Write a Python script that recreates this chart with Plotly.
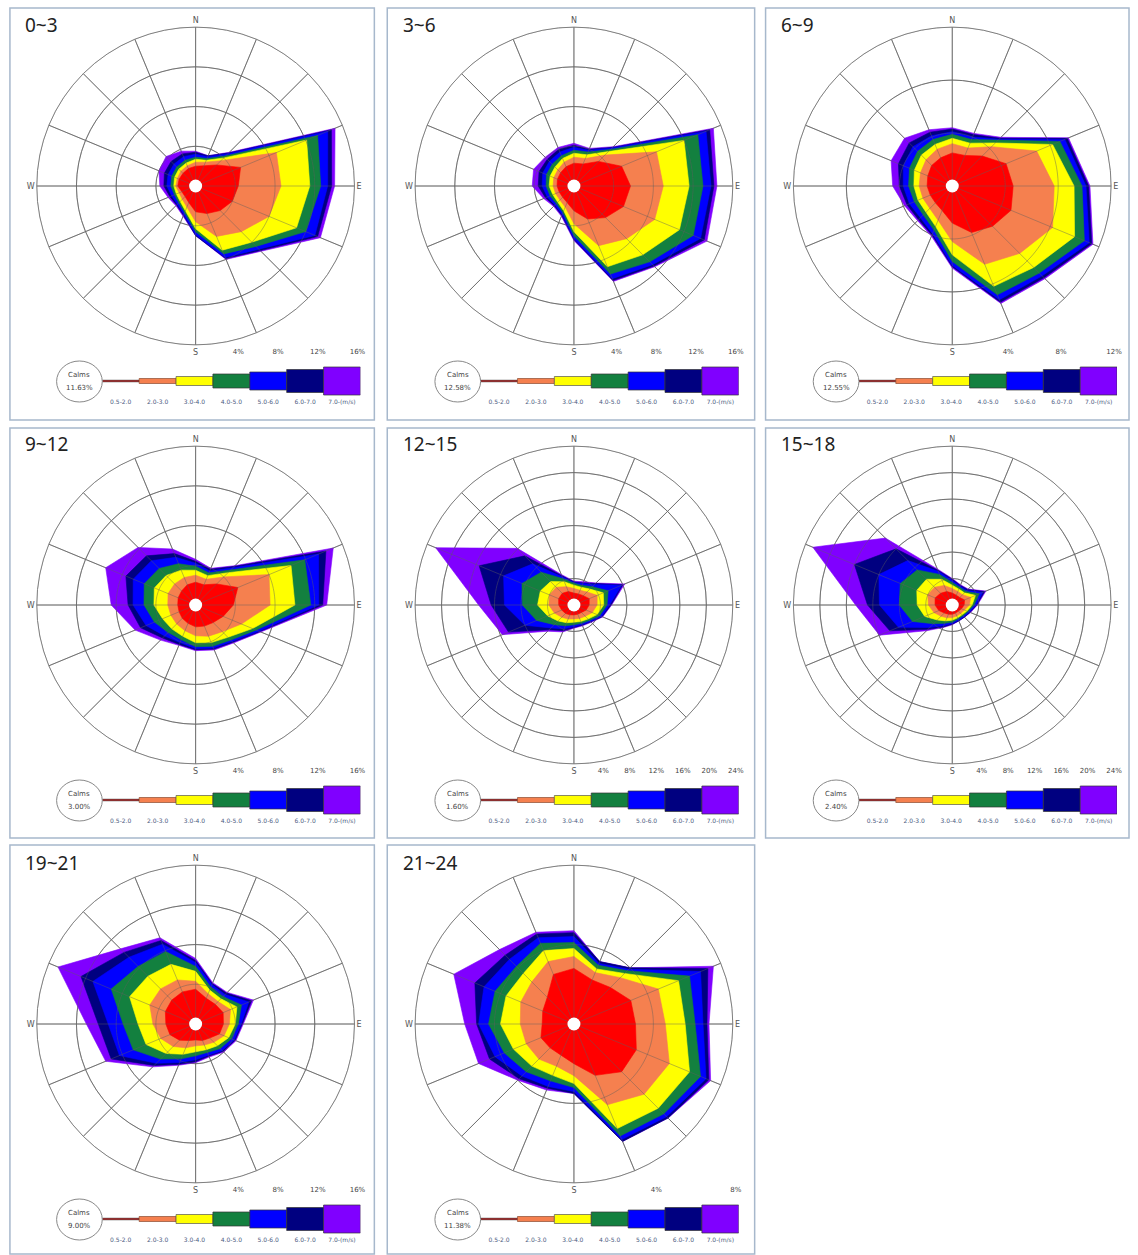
import plotly.graph_objects as go

W, H = 1138, 1255

DIRS = ["N", "NNE", "NE", "ENE", "E", "ESE", "SE", "SSE",
        "S", "SSW", "SW", "WSW", "W", "WNW", "NW", "NNW"]
THETA = [0, 22.5, 45, 67.5, 90, 112.5, 135, 157.5,
         180, 202.5, 225, 247.5, 270, 292.5, 315, 337.5]
CLASSES = ["0.5-2.0", "2.0-3.0", "3.0-4.0", "4.0-5.0", "5.0-6.0", "6.0-7.0", "7.0-(m/s)"]
TITLES = ["0~3", "3~6", "6~9", "9~12", "12~15", "15~18", "19~21", "21~24"]
CALMS = ["11.63%", "12.58%", "12.55%", "3.00%", "1.60%", "2.40%", "9.00%", "11.38%"]
RMAX = [16, 16, 12, 16, 24, 24, 16, 8]
RTICKS = [[4, 8, 12, 16], [4, 8, 12, 16], [4, 8, 12], [4, 8, 12, 16],
          [4, 8, 12, 16, 20, 24], [4, 8, 12, 16, 20, 24], [4, 8, 12, 16], [4, 8]]

# cumulative frequency (%) per direction (N clockwise), one value per speed class
H00_03 = [
    [2.0, 2.4, 2.7, 2.9, 3.2, 3.4, 3.5],
    [2.2, 2.6, 2.8, 3.0, 3.2, 3.3, 3.3],
    [3.0, 3.6, 4.0, 4.3, 4.6, 4.7, 4.8],
    [4.9, 8.8, 12.1, 13.3, 14.4, 14.8, 15.2],
    [4.3, 8.6, 11.5, 12.6, 13.3, 13.7, 14.0],
    [4.0, 8.0, 11.0, 12.0, 13.0, 13.3, 13.6],
    [3.5, 6.5, 8.0, 8.6, 9.0, 9.2, 9.3],
    [3.0, 5.5, 7.0, 7.4, 7.8, 7.9, 8.0],
    [2.6, 3.6, 4.3, 4.6, 4.9, 5.0, 5.0],
    [1.8, 2.3, 2.7, 2.9, 3.1, 3.2, 3.3],
    [1.5, 1.9, 2.2, 2.4, 2.6, 2.7, 2.8],
    [1.5, 1.8, 2.1, 2.3, 2.6, 2.8, 3.0],
    [1.8, 2.0, 2.2, 2.5, 2.9, 3.2, 3.6],
    [1.8, 2.0, 2.3, 2.6, 3.0, 3.4, 4.0],
    [1.8, 2.1, 2.4, 2.7, 3.1, 3.5, 4.2],
    [1.9, 2.2, 2.5, 2.8, 3.2, 3.5, 3.8],
]
H03_06 = [
    [2.3, 2.9, 3.3, 3.6, 3.9, 4.1, 4.3],
    [2.4, 3.0, 3.4, 3.7, 3.9, 4.0, 4.1],
    [3.5, 4.4, 4.9, 5.2, 5.4, 5.5, 5.6],
    [5.2, 9.0, 12.0, 13.5, 14.4, 14.8, 15.2],
    [5.7, 9.0, 11.6, 13.0, 13.8, 14.1, 14.4],
    [5.4, 8.8, 11.5, 13.0, 13.8, 14.2, 14.5],
    [4.5, 7.5, 9.8, 10.8, 11.2, 11.4, 11.5],
    [3.6, 6.5, 8.8, 9.6, 10.1, 10.3, 10.4],
    [2.5, 3.8, 4.6, 5.0, 5.3, 5.4, 5.5],
    [1.8, 2.3, 2.7, 2.9, 3.1, 3.2, 3.3],
    [1.6, 2.0, 2.3, 2.5, 2.7, 2.8, 2.9],
    [1.6, 2.0, 2.3, 2.6, 2.9, 3.1, 3.3],
    [1.7, 2.1, 2.5, 2.8, 3.2, 3.6, 4.2],
    [1.8, 2.2, 2.6, 3.0, 3.4, 3.8, 4.4],
    [1.9, 2.3, 2.7, 3.1, 3.5, 3.8, 4.1],
    [2.1, 2.6, 3.0, 3.3, 3.7, 4.0, 4.2],
]
H06_09 = [
    [2.5, 3.2, 3.6, 3.9, 4.1, 4.3, 4.4],
    [2.5, 3.1, 3.5, 3.8, 4.0, 4.2, 4.3],
    [3.2, 4.2, 4.6, 4.9, 5.0, 5.1, 5.2],
    [4.4, 6.9, 8.2, 8.8, 9.2, 9.4, 9.5],
    [4.6, 7.7, 9.2, 9.8, 10.1, 10.3, 10.4],
    [4.8, 8.2, 10.0, 10.8, 11.2, 11.4, 11.5],
    [4.3, 7.2, 8.7, 9.3, 9.6, 9.8, 9.9],
    [3.8, 6.4, 8.2, 8.9, 9.3, 9.5, 9.6],
    [2.8, 4.2, 5.2, 5.7, 6.0, 6.1, 6.2],
    [2.0, 2.8, 3.3, 3.6, 3.9, 4.0, 4.1],
    [1.8, 2.4, 2.8, 3.1, 3.4, 3.6, 3.7],
    [1.8, 2.4, 2.8, 3.1, 3.5, 3.7, 3.9],
    [1.9, 2.5, 2.9, 3.3, 3.7, 4.0, 4.5],
    [2.0, 2.6, 3.1, 3.5, 4.0, 4.4, 5.0],
    [2.2, 2.8, 3.3, 3.7, 4.2, 4.6, 5.1],
    [2.3, 3.0, 3.4, 3.8, 4.1, 4.4, 4.6],
]
H09_12 = [
    [2.3, 3.0, 3.5, 3.9, 4.2, 4.4, 4.6],
    [2.2, 2.8, 3.2, 3.5, 3.7, 3.9, 4.0],
    [3.0, 4.0, 4.6, 5.0, 5.3, 5.5, 5.6],
    [4.6, 8.0, 10.4, 11.9, 13.4, 14.2, 15.0],
    [3.8, 7.5, 10.0, 11.6, 12.4, 12.8, 13.2],
    [3.0, 5.0, 6.2, 6.6, 6.9, 7.0, 7.1],
    [2.5, 3.8, 4.6, 5.0, 5.2, 5.3, 5.4],
    [2.3, 3.4, 4.1, 4.5, 4.7, 4.8, 4.9],
    [2.2, 3.1, 3.8, 4.2, 4.4, 4.5, 4.6],
    [2.0, 2.8, 3.4, 3.8, 4.1, 4.3, 4.4],
    [1.9, 2.7, 3.4, 3.9, 4.4, 4.7, 5.0],
    [1.8, 2.7, 3.6, 4.5, 5.4, 6.0, 6.6],
    [1.8, 2.8, 4.2, 5.2, 6.3, 6.8, 8.5],
    [1.9, 3.0, 4.5, 5.6, 6.8, 7.6, 9.8],
    [2.0, 3.0, 4.2, 5.2, 6.3, 7.0, 8.2],
    [2.2, 3.0, 3.8, 4.5, 5.2, 5.6, 6.1],
]
H12_15 = [
    [1.8, 2.5, 3.0, 3.3, 3.4, 3.5, 3.6],
    [1.8, 2.4, 2.9, 3.2, 3.5, 3.6, 3.8],
    [2.0, 2.8, 3.4, 3.9, 4.4, 4.6, 4.7],
    [2.5, 3.8, 4.8, 5.6, 7.8, 8.0, 8.3],
    [2.3, 3.5, 4.5, 5.0, 5.4, 5.6, 5.7],
    [2.0, 3.0, 3.8, 4.2, 4.5, 4.6, 4.7],
    [1.6, 2.4, 3.0, 3.3, 3.5, 3.6, 3.7],
    [1.5, 2.2, 2.7, 3.0, 3.2, 3.3, 3.4],
    [1.5, 2.1, 2.6, 3.0, 3.3, 3.4, 3.5],
    [1.6, 2.3, 2.9, 3.4, 3.9, 4.2, 4.4],
    [1.8, 2.6, 3.4, 4.2, 4.9, 5.3, 5.6],
    [2.0, 3.2, 4.3, 6.1, 8.0, 10.7, 11.7],
    [2.3, 3.8, 5.5, 7.8, 10.5, 12.5, 14.4],
    [2.5, 4.0, 5.5, 8.5, 11.5, 15.5, 22.6],
    [2.5, 3.8, 5.0, 7.0, 8.8, 10.5, 12.1],
    [2.2, 3.0, 3.8, 4.3, 4.6, 4.8, 5.0],
]
H15_18 = [
    [1.8, 2.5, 3.0, 3.4, 3.7, 3.9, 4.0],
    [1.6, 2.2, 2.6, 2.9, 3.1, 3.2, 3.3],
    [1.6, 2.2, 2.6, 2.9, 3.1, 3.3, 3.4],
    [2.0, 3.0, 3.8, 4.4, 5.0, 5.3, 5.5],
    [1.8, 2.6, 3.0, 3.3, 3.6, 3.7, 3.8],
    [1.5, 2.0, 2.4, 2.6, 2.8, 2.9, 3.0],
    [1.3, 1.8, 2.1, 2.3, 2.5, 2.6, 2.6],
    [1.3, 1.8, 2.1, 2.3, 2.5, 2.6, 2.6],
    [1.4, 1.9, 2.3, 2.6, 2.8, 2.9, 3.0],
    [1.5, 2.1, 2.6, 3.0, 3.4, 3.6, 3.7],
    [1.7, 2.4, 3.2, 4.0, 4.8, 5.2, 5.5],
    [2.2, 3.0, 4.5, 6.5, 8.8, 10.2, 11.9],
    [2.6, 3.6, 5.3, 8.0, 11.0, 12.8, 14.6],
    [2.8, 4.0, 5.8, 8.5, 12.0, 16.0, 22.8],
    [2.5, 3.8, 5.5, 7.5, 9.5, 12.0, 14.3],
    [2.2, 3.2, 4.2, 5.0, 5.5, 5.7, 5.9],
]
H19_21 = [
    [3.5, 4.3, 5.3, 5.8, 6.2, 6.4, 6.6],
    [2.8, 3.3, 3.7, 4.0, 4.3, 4.4, 4.5],
    [2.8, 3.2, 3.6, 3.9, 4.2, 4.4, 4.5],
    [3.0, 3.8, 4.5, 5.0, 5.8, 6.1, 6.3],
    [2.8, 3.4, 4.0, 4.3, 4.6, 4.7, 4.8],
    [2.6, 3.1, 3.6, 3.9, 4.2, 4.3, 4.4],
    [2.0, 2.6, 3.1, 3.5, 3.8, 3.9, 4.0],
    [1.8, 2.3, 2.8, 3.1, 3.4, 3.5, 3.6],
    [1.6, 2.2, 2.8, 3.2, 3.6, 3.8, 3.9],
    [1.8, 2.6, 3.3, 3.8, 4.2, 4.4, 4.5],
    [2.3, 3.2, 4.2, 5.0, 5.6, 5.9, 6.1],
    [2.8, 3.8, 5.4, 6.8, 8.3, 9.2, 9.8],
    [3.0, 4.3, 5.8, 7.3, 8.8, 9.8, 11.0],
    [3.3, 5.0, 7.2, 9.2, 11.2, 12.5, 15.0],
    [3.4, 5.0, 6.8, 8.2, 9.5, 10.2, 10.7],
    [3.5, 4.8, 6.5, 7.9, 8.7, 9.1, 9.4],
]
H21_24 = [
    [2.8, 3.4, 3.8, 4.1, 4.4, 4.6, 4.7],
    [2.4, 2.8, 3.0, 3.2, 3.3, 3.4, 3.4],
    [2.6, 3.3, 3.6, 3.8, 3.9, 4.0, 4.0],
    [3.1, 4.6, 5.7, 6.3, 6.9, 7.3, 7.6],
    [3.1, 4.6, 5.6, 6.1, 6.5, 6.7, 6.8],
    [3.4, 5.2, 6.3, 6.9, 7.2, 7.35, 7.45],
    [3.4, 5.0, 6.0, 6.4, 6.6, 6.7, 6.7],
    [2.8, 4.4, 5.7, 6.1, 6.3, 6.4, 6.4],
    [2.0, 2.6, 3.0, 3.2, 3.4, 3.5, 3.5],
    [1.7, 2.3, 2.8, 3.1, 3.4, 3.5, 3.6],
    [1.7, 2.5, 3.0, 3.4, 3.7, 3.9, 4.0],
    [1.8, 2.6, 3.3, 3.8, 4.3, 4.6, 5.2],
    [1.6, 2.7, 3.7, 4.3, 4.8, 4.9, 5.5],
    [1.7, 2.9, 3.7, 4.3, 4.9, 5.4, 6.55],
    [1.9, 3.0, 3.6, 4.1, 4.6, 4.9, 5.3],
    [2.7, 3.4, 4.0, 4.4, 4.7, 4.9, 5.0],
]
PANELS = [H00_03, H03_06, H06_09, H09_12, H12_15, H15_18, H19_21, H21_24]

# ---------------- styles / layout ----------------
COLORS = ["#FF0000", "#F5804F", "#FFFF00", "#13803F", "#0000FF", "#000080", "#8000FF"]
LEG_H = [1.5, 5, 9, 14, 18, 23, 28]
LEG_EDGE = ["#222", "#8a4a30", "#555", "#333", "#333", "#333", "#333"]
GRID = "#808080"
GRID_OVER = "rgba(95,95,95,0.55)"
COL_CX = [197, 578, 959]
ROW_CY = [186, 605, 1024]
COL_BOX = [(10, 377), (390, 760), (771, 1137)]
ROW_BOX = [(8, 420), (428, 838), (845, 1254)]
RPX = 160
RING_THETA = [j * 2 for j in range(181)]


def px(x):
    return x / W


def py(y):
    return 1 - y / H


fig = go.Figure()
layout = dict(width=W, height=H, margin=dict(l=0, r=0, t=0, b=0),
              paper_bgcolor="white", plot_bgcolor="rgba(0,0,0,0)",
              showlegend=False, shapes=[], annotations=[])

for i, data in enumerate(PANELS):
    col, row = i % 3, i // 3
    cx, cy = COL_CX[col], ROW_CY[row]
    pid = "polar" if i == 0 else f"polar{i + 1}"

    for k in reversed(range(7)):
        r = [d[k] for d in data] + [data[0][k]]
        fig.add_trace(go.Scatterpolar(
            r=r, theta=THETA + [THETA[0]], mode="lines", fill="toself",
            fillcolor=COLORS[k], line=dict(color=COLORS[k], width=0.6),
            subplot=pid, hoverinfo="skip"))

    # grid drawn again over the filled areas (spokes and rings)
    gr, gt = [], []
    for t in THETA:
        gr += [0, RMAX[i], None]
        gt += [t, t, None]
    for v in RTICKS[i]:
        gr += [v] * len(RING_THETA) + [None]
        gt += RING_THETA + [None]
    fig.add_trace(go.Scatterpolar(r=gr, theta=gt, mode="lines", subplot=pid,
                                  hoverinfo="skip", connectgaps=False,
                                  line=dict(color=GRID_OVER, width=0.8)))

    fig.add_trace(go.Scatterpolar(
        r=[0], theta=[0], mode="markers", subplot=pid, hoverinfo="skip",
        marker=dict(color="white", size=13, line=dict(width=0))))

    layout[pid] = dict(
        domain=dict(x=[px(cx - RPX), px(cx + RPX)], y=[py(cy + RPX), py(cy - RPX)]),
        bgcolor="white",
        radialaxis=dict(range=[0, RMAX[i]], tickvals=RTICKS[i], showticklabels=False,
                        ticks="", showline=False, gridcolor=GRID, gridwidth=1,
                        layer="above traces"),
        angularaxis=dict(rotation=90, direction="clockwise", tickmode="array",
                         tickvals=THETA,
                         ticktext=[d if d in ("N", "E", "S", "W") else "" for d in DIRS],
                         ticks="", showline=True, linecolor=GRID, linewidth=1,
                         gridcolor=GRID, gridwidth=1, layer="above traces",
                         tickfont=dict(size=8, color="#555", family="DejaVu Sans")),
    )

    # radial scale labels under the rose
    n1 = 2 * i + 1
    xa = "xaxis" if n1 == 1 else f"xaxis{n1}"
    ya = "yaxis" if n1 == 1 else f"yaxis{n1}"
    xr = "x" if n1 == 1 else f"x{n1}"
    yr = "y" if n1 == 1 else f"y{n1}"
    fig.add_trace(go.Scatter(x=RTICKS[i], y=[0] * len(RTICKS[i]), mode="markers",
                             marker=dict(opacity=0), xaxis=xr, yaxis=yr, hoverinfo="skip"))
    layout[xa] = dict(domain=[px(cx + 3), px(cx + 3 + RPX)], range=[0, RMAX[i]],
                      tickvals=RTICKS[i], ticktext=[f"{v}%" for v in RTICKS[i]],
                      showgrid=False, zeroline=False, showline=False, ticks="",
                      tickfont=dict(size=7, color="#444", family="DejaVu Sans"),
                      anchor=yr, fixedrange=True)
    layout[ya] = dict(domain=[py(cy + 160), py(cy + 150)], range=[-1, 1], visible=False,
                      anchor=xr, fixedrange=True)

    # speed class legend
    n2 = 2 * i + 2
    xa2, ya2, xr2, yr2 = f"xaxis{n2}", f"yaxis{n2}", f"x{n2}", f"y{n2}"
    fig.add_trace(go.Bar(x=CLASSES, y=LEG_H, base=[-h / 2 for h in LEG_H],
                         width=1.0, xaxis=xr2, yaxis=yr2, hoverinfo="skip",
                         marker=dict(color=COLORS, line=dict(color=LEG_EDGE, width=0.7))))
    layout[xa2] = dict(domain=[px(cx - 94), px(cx + 166)], type="category",
                       range=[-0.5, 6.5], showgrid=False, zeroline=False, showline=False,
                       ticks="", tickangle=0, anchor=yr2, fixedrange=True,
                       tickfont=dict(size=6, color="#4b5b80", family="DejaVu Sans"))
    layout[ya2] = dict(domain=[py(cy + 211), py(cy + 179)], range=[-16, 16],
                       visible=False, anchor=xr2, fixedrange=True)

    # calms circle
    layout["shapes"].append(dict(type="circle", xref="paper", yref="paper",
                                 x0=px(cx - 140), x1=px(cx - 94),
                                 y0=py(cy + 216), y1=py(cy + 175),
                                 line=dict(color="#888", width=1), fillcolor="white"))
    layout["annotations"].append(dict(text="Calms", xref="paper", yref="paper",
                                      x=px(cx - 117), y=py(cy + 189), showarrow=False,
                                      xanchor="center", yanchor="middle",
                                      font=dict(size=7, color="#444", family="DejaVu Sans")))
    layout["annotations"].append(dict(text=CALMS[i], xref="paper", yref="paper",
                                      x=px(cx - 117), y=py(cy + 202), showarrow=False,
                                      xanchor="center", yanchor="middle",
                                      font=dict(size=7, color="#444", family="DejaVu Sans")))
    # panel title
    layout["annotations"].append(dict(text=TITLES[i], xref="paper", yref="paper",
                                      x=px(cx - 174), y=py(cy - 161), xanchor="left",
                                      yanchor="middle", showarrow=False,
                                      font=dict(size=19, color="#222", family="Noto Sans")))
    # panel frame
    bx, by = COL_BOX[col], ROW_BOX[row]
    layout["shapes"].append(dict(type="rect", xref="paper", yref="paper",
                                 x0=px(bx[0]), x1=px(bx[1]), y0=py(by[1]), y1=py(by[0]),
                                 line=dict(color="#A7B8CC", width=1.5), layer="below"))

fig.update_layout(**layout)
fig.write_html("out.html")
